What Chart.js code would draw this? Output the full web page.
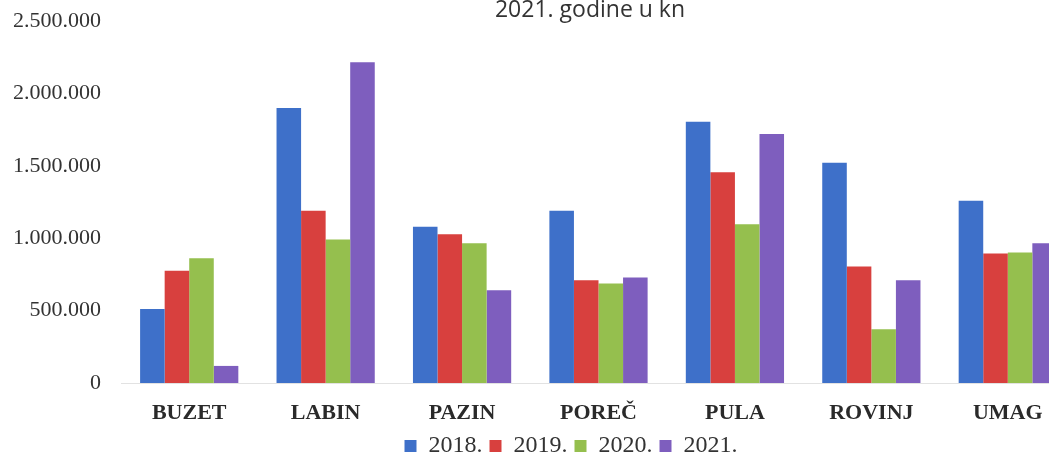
<!DOCTYPE html>
<html>
<head>
<meta charset="utf-8">
<script src="https://cdn.jsdelivr.net/npm/chart.js@4.4.1/dist/chart.umd.min.js"></script>
<style>
  html, body { margin: 0; padding: 0; background: #fff; overflow: hidden; }
  #wrap { position: relative; width: 1080px; height: 468px; }
</style>
</head>
<body>
<div id="wrap"><canvas id="c"></canvas></div>
<script>
const categories = ['BUZET', 'LABIN', 'PAZIN', 'POREČ', 'PULA', 'ROVINJ', 'UMAG'];
const seriesNames = ['2018.', '2019.', '2020.', '2021.'];
const values2018 = [512000, 1900000, 1079000, 1190000, 1805000, 1522000, 1259000];
const values2019 = [775000, 1190000, 1028000, 710000, 1455000, 805000, 894000];
const values2020 = [862000, 991000, 966000, 687000, 1097000, 371000, 901000];
const values2021 = [118000, 2215000, 641000, 728000, 1720000, 710000, 966000];
const titleText = '2021. godine u kn';
const yTickMax = 2500000;
const yTickStep = 500000;

const colors = ['#3e70c9', '#d8403e', '#95bf4e', '#7e5ebe'];
const allValues = [values2018, values2019, values2020, values2021];

const fmt = v => String(v).replace(/\B(?=(\d{3})+(?!\d))/g, '.');

const shiftPlugin = {
  id: 'shiftBoxes',
  afterLayout(chart) {
    const t = chart.titleBlock;
    if (t) { const dx = 590 - (t.left + t.right) / 2; t.left += dx; t.right += dx; }
    const l = chart.legend;
    if (l) { const dx = 571 - (l.left + l.right) / 2; l.left += dx; l.right += dx; }
  }
};

new Chart(document.getElementById('c'), {
  type: 'bar',
  data: {
    labels: categories,
    datasets: seriesNames.map((n, i) => ({
      label: n,
      data: allValues[i],
      backgroundColor: colors[i],
      borderWidth: 0,
      barPercentage: 1.0,
      categoryPercentage: 0.72
    }))
  },
  plugins: [shiftPlugin],
  options: {
    responsive: true,
    maintainAspectRatio: false,
    animation: false,
    layout: { padding: { left: 0, right: 4, top: 0, bottom: 0 } },
    plugins: {
      title: {
        display: true,
        text: titleText,
        color: '#333',
        font: { family: '"Open Sans"', size: 23, weight: 'normal', lineHeight: 1 },
        padding: { top: -3, bottom: -1 }
      },
      legend: {
        display: true,
        position: 'bottom',
        labels: {
          color: '#333',
          font: { family: '"Liberation Serif"', size: 24 },
          boxWidth: 12,
          boxHeight: 12,
          padding: 7
        }
      },
      tooltip: { enabled: false }
    },
    scales: {
      x: {
        grid: { display: false, drawTicks: false },
        border: { display: true, color: '#e2e2e2', width: 1 },
        afterFit(scale) { scale.height = 44; },
        ticks: {
          color: '#2a2a2a',
          padding: 17,
          font: { family: '"Liberation Serif"', size: 22, weight: 'bold' },
          maxRotation: 0
        }
      },
      y: {
        min: 0,
        max: yTickMax,
        grid: { display: false, drawTicks: false },
        border: { display: false },
        afterFit(scale) { scale.width = 121; },
        ticks: {
          stepSize: yTickStep,
          color: '#333',
          padding: 20,
          font: { family: '"Liberation Serif"', size: 22, lineHeight: 0.1 },
          callback: v => fmt(v)
        }
      }
    }
  }
});
</script>
</body>
</html>
